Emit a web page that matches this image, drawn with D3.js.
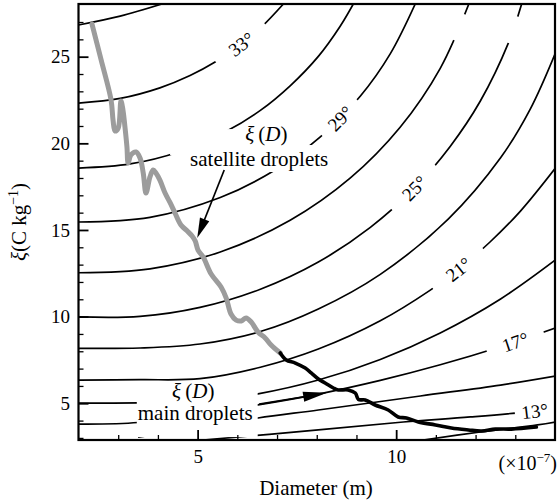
<!DOCTYPE html>
<html><head><meta charset="utf-8">
<script src="https://cdn.jsdelivr.net/npm/d3@7"></script>
<style>
html,body{margin:0;padding:0;background:#fff;}
svg{display:block;font-family:"Liberation Serif","Times New Roman",serif;}
</style></head>
<body><svg id="chart" width="558" height="503"></svg>
<script>
// ---------- data ----------
// satellite droplets branch xi(D) (grey)
const satD  = [2.34,2.57,2.82,2.87,2.92,3.00,3.07,3.12,3.17,3.22,3.25,3.32,3.45,3.55,3.63,3.70,3.80,3.88,3.95,4.05,4.18,4.31,4.43,4.58,4.74,4.86,4.94,5.01,5.14,5.34,5.59,5.72,5.84,5.97,6.10,6.22,6.35,6.52,6.70,6.85,7.08];
const satXi = [26.88,24.81,22.50,21.34,20.71,20.88,22.44,21.92,20.94,19.79,18.86,19.33,19.50,19.15,18.29,17.13,18.06,18.46,18.29,17.88,17.13,16.56,15.98,15.29,14.94,14.65,14.36,13.84,13.44,12.46,11.71,11.07,10.15,9.80,9.75,9.92,9.69,9.11,8.77,8.36,7.90];
// main droplets branch xi(D) (black)
const mainD  = [7.08,7.23,7.46,7.71,7.86,8.04,8.21,8.42,8.54,8.79,8.97,9.05,9.22,9.47,9.80,10.05,10.26,10.56,10.99,11.39,11.82,12.15,12.50,12.90,13.53];
const mainXi = [7.90,7.50,7.32,7.03,6.75,6.40,6.17,5.88,5.77,5.77,5.59,5.22,5.19,4.90,4.61,4.21,4.15,3.92,3.75,3.57,3.46,3.40,3.51,3.51,3.63];

// iso-angle contour lines, [D, xi] points
const c35 = [[2.0,26.83],[3.05,27.34],[4.10,28.04]];
const c33 = [[2.0,22.32],[3.05,22.59],[4.05,23.20],[4.81,23.91],[5.44,24.69],[6.10,25.72],[6.63,26.76],[7.16,28.04]];
const c31 = [[2.0,18.57],[3.30,18.81],[4.56,19.53],[5.69,20.65],[6.58,21.90],[7.33,23.32],[8.04,25.02],[8.59,26.76],[8.92,28.04]];
const c29 = [[2.0,15.46],[3.80,15.73],[5.57,16.87],[6.95,18.46],[8.09,20.37],[9.10,22.73],[9.85,25.16],[10.48,28.04]];
const c27 = [[2.0,12.53],[3.80,12.76],[5.57,13.73],[7.33,15.56],[8.84,17.99],[10.10,20.93],[11.11,24.33],[11.84,28.10]];
const c25 = [[2.0,9.98],[3.55,10.01],[5.06,10.53],[6.58,11.58],[8.04,13.15],[9.35,15.15],[10.46,17.41],[11.36,19.82],[12.12,22.44],[12.83,25.81],[13.16,28.04]];
const c23 = [[2.0,8.17],[3.55,8.19],[5.06,8.42],[6.58,9.14],[8.04,10.44],[9.60,12.44],[11.31,15.63],[12.63,19.17],[13.38,21.99],[14.01,25.21]];
const c21 = [[2.0,6.34],[3.55,6.36],[5.06,6.42],[6.58,7.08],[8.04,8.13],[9.60,9.76],[10.86,11.53],[11.57,12.73],[12.37,14.32],[13.13,16.09],[14.01,18.57]];
const c19 = [[2.0,5.01],[3.50,5.02],[5.06,5.07],[6.52,5.54],[8.04,6.34],[9.60,7.53],[11.11,9.06],[12.63,11.02],[14.01,13.27]];
const c17 = [[2.0,3.80],[3.50,3.89],[5.06,4.43],[6.52,4.91],[8.04,5.53],[9.60,6.32],[11.11,7.22],[12.63,8.26],[14.01,9.34]];
const c15 = [[3.50,3.05],[5.06,3.57],[6.52,4.15],[8.04,4.61],[10.61,5.42],[12.63,6.05],[14.01,6.57]];
const c13 = [[5.14,2.88],[8.04,3.46],[10.18,3.92],[11.87,4.21],[13.49,4.55],[14.01,4.73]];
const c11 = [[10.68,2.88],[12.12,3.34],[13.56,3.75],[14.01,3.92]];
const contourAngles = [35,33,31,29,27,25,23,21,19,17,15,13,11];
const contourPts = [c35,c33,c31,c29,c27,c25,c23,c21,c19,c17,c15,c13,c11];

// contour labels: angle and D where the label sits
const labelAngles = [33,29,25,21,17,13];
const labelD      = [6.10,8.59,10.46,11.57,13.0,13.49];
// blank (erased) label gaps
const blankAngles = [27,25];
const blankD      = [11.59,12.95];

// axes
const xDomain = [2,14];
const yDomain = [2.88,28.04];
const xMajor = [5,10];
const xMinor = [3,4,6,7,8,9,11,12,13];
const yMajor = [5,10,15,20,25];
const yMinor = [3,4,6,7,8,9,11,12,13,14,16,17,18,19,21,22,23,24,26,27];

// ---------- layout / style ----------
const X0=78.5, X1=555, Y0=4, Y1=440;
const FONT='"Liberation Serif","Times New Roman",serif';
const labelGap = [62,50,62,64,60,40];
const blankGap = [28,28];

const svg = d3.select('#chart');
const x = d3.scaleLinear().domain(xDomain).range([X0,X1]);
const y = d3.scaleLinear().domain(yDomain).range([Y1,Y0]);

const defs = svg.append('defs');
defs.append('clipPath').attr('id','plotClip').append('rect')
  .attr('x',X0).attr('y',Y0).attr('width',X1-X0).attr('height',Y1-Y0);
const mask = defs.append('mask').attr('id','gapMask').attr('maskUnits','userSpaceOnUse')
  .attr('x',0).attr('y',0).attr('width',558).attr('height',503);
mask.append('rect').attr('x',0).attr('y',0).attr('width',558).attr('height',503).attr('fill','#fff');

// contours
const cg = svg.append('g').attr('clip-path','url(#plotClip)')
  .append('g').attr('mask','url(#gapMask)');
const cline = d3.line().x(d=>x(d[0])).y(d=>y(d[1])).curve(d3.curveCatmullRom.alpha(0.5));
const paths = {};
contourAngles.forEach((a,i)=>{
  paths[a] = cg.append('path').attr('d',cline(contourPts[i]))
    .attr('fill','none').attr('stroke','#000').attr('stroke-width',1.7).node();
});

function locate(node, px){
  let lo=0, hi=node.getTotalLength();
  for(let k=0;k<40;k++){
    const mid=(lo+hi)/2;
    if(node.getPointAtLength(mid).x<px) lo=mid; else hi=mid;
  }
  const L=(lo+hi)/2, p=node.getPointAtLength(L);
  const p1=node.getPointAtLength(Math.max(0,L-4)), p2=node.getPointAtLength(L+4);
  return {x:p.x,y:p.y,ang:Math.atan2(p2.y-p1.y,p2.x-p1.x)*180/Math.PI};
}

const lg = svg.append('g');
labelAngles.forEach((a,i)=>{
  const p = locate(paths[a], x(labelD[i]));
  mask.append('rect').attr('x',-labelGap[i]/2).attr('y',-9).attr('width',labelGap[i]).attr('height',18)
    .attr('fill','#000').attr('transform',`translate(${p.x},${p.y}) rotate(${p.ang})`);
  lg.append('text').attr('transform',`translate(${p.x},${p.y}) rotate(${p.ang})`)
    .attr('text-anchor','middle').attr('dy','0.35em')
    .attr('font-family',FONT).attr('font-size',19).text(a+'°');
});
blankAngles.forEach((a,i)=>{
  const p = locate(paths[a], x(blankD[i]));
  mask.append('rect').attr('x',-blankGap[i]/2).attr('y',-8).attr('width',blankGap[i]).attr('height',16)
    .attr('fill','#000').attr('transform',`translate(${p.x},${p.y}) rotate(${p.ang})`);
});

// xi(D) curves
const curveLine = d3.line().x(d=>x(d[0])).y(d=>y(d[1])).curve(d3.curveCatmullRom.alpha(0.5));
const pg = svg.append('g').attr('clip-path','url(#plotClip)');
pg.append('path').attr('d',curveLine(satD.map((d,i)=>[d,satXi[i]])))
  .attr('fill','none').attr('stroke','#9c9c9c').attr('stroke-width',5)
  .attr('stroke-linejoin','round').attr('stroke-linecap','round');
pg.append('path').attr('d',curveLine(mainD.map((d,i)=>[d,mainXi[i]])))
  .attr('fill','none').attr('stroke','#000').attr('stroke-width',3.6)
  .attr('stroke-linejoin','round').attr('stroke-linecap','round');

// annotations
function xiD(sel, cx, cy){
  const t = sel.append('text').attr('x',cx).attr('y',cy).attr('text-anchor','middle')
    .attr('font-family',FONT).attr('font-size',21);
  t.append('tspan').attr('font-style','italic').text('ξ');
  t.append('tspan').text('\u2009(');
  t.append('tspan').attr('font-style','italic').text('D');
  t.append('tspan').text(')');
  return t;
}
const ag = svg.append('g');
const s1 = xiD(ag, x(6.73), y(20.13));
const s2 = ag.append('text').attr('x',x(6.55)).attr('y',y(18.69)).attr('text-anchor','middle')
  .attr('font-family',FONT).attr('font-size',21).text('satellite droplets');
const m1 = xiD(ag, x(4.89), y(5.30));
const m2 = ag.append('text').attr('x',x(4.94)).attr('y',y(4.03)).attr('text-anchor','middle')
  .attr('font-family',FONT).attr('font-size',21).text('main droplets');

const b1=s1.node().getBBox(), b2=s2.node().getBBox();
mask.append('rect').attr('fill','#000').attr('x',b2.x-20).attr('y',b1.y+7)
  .attr('width',(b1.x+b1.width+18)-(b2.x-20)).attr('height',(b2.y+8)-(b1.y+7));
mask.append('rect').attr('fill','#000').attr('x',b2.x-4).attr('y',b2.y-2)
  .attr('width',b2.width+8).attr('height',b2.height+3);
const mb1=m1.node().getBBox(), mb2=m2.node().getBBox();
mask.append('rect').attr('fill','#000').attr('x',mb2.x-1).attr('y',mb1.y+4)
  .attr('width',mb2.width+6).attr('height',(mb2.y+mb2.height+12)-(mb1.y+4));

// arrows
function arrow(from, to, headLen, headHalf){
  const x1=x(from[0]), y1=y(from[1]), x2=x(to[0]), y2=y(to[1]);
  const dx=x2-x1, dy=y2-y1, L=Math.hypot(dx,dy), ux=dx/L, uy=dy/L;
  const bx=x2-ux*headLen, by=y2-uy*headLen;
  ag.append('line').attr('x1',x1).attr('y1',y1).attr('x2',bx+ux*2).attr('y2',by+uy*2)
    .attr('stroke','#000').attr('stroke-width',1.7);
  ag.append('path').attr('d',`M${x2},${y2}L${bx-uy*headHalf},${by+ux*headHalf}L${bx+uy*headHalf},${by-ux*headHalf}Z`)
    .attr('fill','#000');
}
arrow([5.67,18.46],[4.99,14.54],20,5);
arrow([6.55,4.95],[8.26,5.60],24,5);

// axes
function styleAxis(g){ g.select('.domain').remove();
  g.attr('font-family',FONT).attr('font-size',19); g.selectAll('text').attr('fill','#000'); }
const gxMinor = svg.append('g').attr('transform',`translate(0,${Y1})`)
  .call(d3.axisBottom(x).tickValues(xMinor).tickSize(-5).tickFormat(''));
styleAxis(gxMinor); gxMinor.selectAll('line').attr('stroke-width',1.3);
const gx = svg.append('g').attr('transform',`translate(0,${Y1})`)
  .call(d3.axisBottom(x).tickValues(xMajor).tickSize(-10).tickPadding(9.5).tickFormat(d3.format('d')));
styleAxis(gx); gx.selectAll('line').attr('stroke-width',1.8);
const gyMinor = svg.append('g').attr('transform',`translate(${X0},0)`)
  .call(d3.axisLeft(y).tickValues(yMinor).tickSize(-5).tickFormat(''));
styleAxis(gyMinor); gyMinor.selectAll('line').attr('stroke-width',1.3);
const gy = svg.append('g').attr('transform',`translate(${X0},0)`)
  .call(d3.axisLeft(y).tickValues(yMajor).tickSize(-10).tickPadding(8.5).tickFormat(d3.format('d')));
styleAxis(gy); gy.selectAll('line').attr('stroke-width',1.8);

// frame
svg.append('rect').attr('x',X0).attr('y',Y0).attr('width',X1-X0).attr('height',Y1-Y0)
  .attr('fill','none').attr('stroke','#000').attr('stroke-width',2.2);

// axis titles
svg.append('text').attr('x',316).attr('y',495).attr('text-anchor','middle')
  .attr('font-family',FONT).attr('font-size',21).text('Diameter (m)');
const yt = svg.append('text').attr('transform','translate(26,222) rotate(-90)')
  .attr('text-anchor','middle').attr('font-family',FONT).attr('font-size',21);
yt.append('tspan').attr('font-style','italic').text('ξ');
yt.append('tspan').text('(C kg');
yt.append('tspan').attr('font-size',14).attr('dy',-8).text('−1');
yt.append('tspan').attr('dy',8).text(')');
const sc = svg.append('text').attr('x',557).attr('y',470).attr('text-anchor','end')
  .attr('font-family',FONT).attr('font-size',20);
sc.append('tspan').text('(×10');
sc.append('tspan').attr('font-size',13).attr('dy',-8).text('−7');
sc.append('tspan').attr('dy',8).text(')');
</script>
</body></html>
